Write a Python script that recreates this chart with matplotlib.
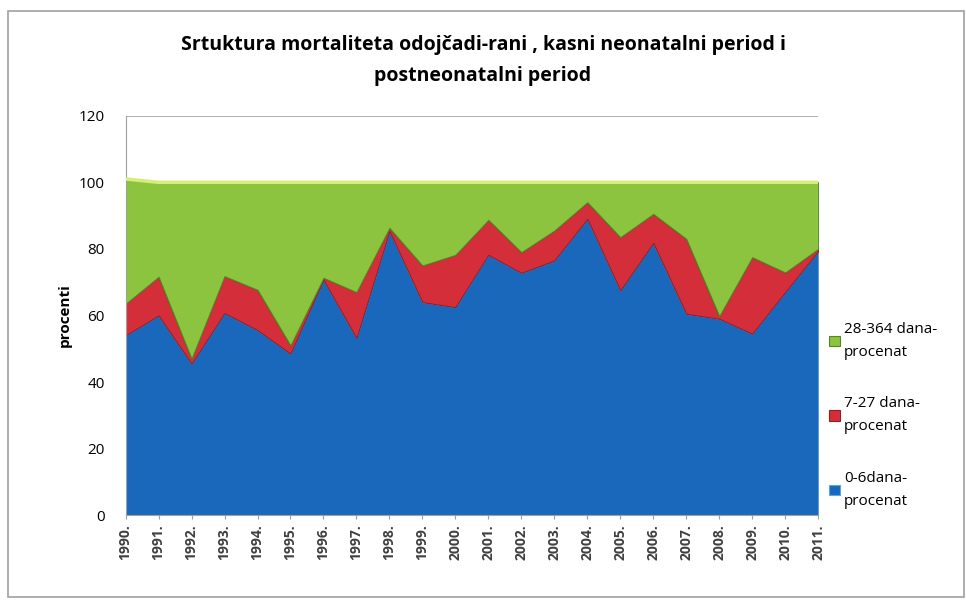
import numpy as np
import matplotlib.pyplot as plt
from matplotlib.patches import Rectangle

years = ["1990.", "1991.", "1992.", "1993.", "1994.", "1995.", "1996.", "1997.",
         "1998.", "1999.", "2000.", "2001.", "2002.", "2003.", "2004.", "2005.",
         "2006.", "2007.", "2008.", "2009.", "2010.", "2011."]

# procenti po grupama
dana_0_6 = [54, 60, 45.5, 60.7, 55.6, 48.5, 70.7, 53.2, 85.3, 64, 62.5,
            78.2, 72.8, 76.5, 89, 67.5, 81.8, 60.5, 59, 54.5, 67, 79.3]
dana_7_27 = [9.5, 11.6, 1.5, 11.1, 12.1, 2.5, 0.6, 13.8, 1.0, 11, 15.7,
             10.5, 6.2, 9, 5, 16, 8.7, 22.5, 0.8, 23, 5.9, 0.7]
dana_28_364 = [37.5, 28.4, 53, 28.2, 32.3, 49, 28.7, 33, 13.7, 25, 21.8,
               11.3, 21, 14.5, 6, 16.5, 9.5, 17, 40.2, 22.5, 27.1, 20]

labels = ["0-6dana-\nprocenat", "7-27 dana-\nprocenat", "28-364 dana-\nprocenat"]
colors = ["#1a68bb", "#d42e3b", "#8cc43f"]
edges = ["#5aa6e6", "#8e1f27", "#4f8a22"]

plt.rcParams['font.family'] = ['Open Sans', 'DejaVu Sans']

fig = plt.figure(figsize=(9.66, 6.09), dpi=100)
fig.patches.append(Rectangle((0.008, 0.02), 0.99, 0.962, transform=fig.transFigure,
                             fill=False, edgecolor="#a0a0a0", lw=1.2))
ax = fig.add_axes([0.130, 0.154, 0.717, 0.656])

x = np.arange(len(years))
polys = ax.stackplot(x, dana_0_6, dana_7_27, dana_28_364, colors=colors,
                     labels=labels, zorder=2)
for p, ec in zip(polys, edges):
    p.set_edgecolor(ec)
    p.set_linewidth(0.8)

# svjetlija gornja ivica zelene povrsine
top = np.array(dana_0_6) + np.array(dana_7_27) + np.array(dana_28_364)
ax.plot(x, top, color="#d8ec7a", lw=2.5, zorder=3)

ax.set_xlim(0, len(years) - 1)
ax.set_ylim(0, 120)
ax.set_yticks(range(0, 121, 20))
ax.yaxis.grid(True, color="#a0a0a0", lw=1.2, zorder=0)
ax.set_axisbelow(True)
ax.set_xticks(x)
ax.set_xticklabels(years, rotation=90, fontsize=10, fontweight="bold", color="#404040")
ax.tick_params(axis="y", labelsize=11, length=0, pad=15)
ax.tick_params(axis="x", length=3, color="#a0a0a0")
for s in ["top", "right"]:
    ax.spines[s].set_visible(False)
for s in ["left", "bottom"]:
    ax.spines[s].set_color("#a0a0a0")

ax.set_ylabel("procenti", fontsize=11, fontweight="bold", labelpad=5)

fig.text(0.50, 0.901, "Srtuktura mortaliteta odojčadi-rani , kasni neonatalni period i\npostneonatalni period",
         ha="center", va="center", fontsize=14, fontweight="bold", linespacing=1.7)

handles, lbls = ax.get_legend_handles_labels()
leg = ax.legend(handles[::-1], lbls[::-1], loc="center left", bbox_to_anchor=(1.0, 0.25),
                frameon=False, fontsize=11, handlelength=0.7, handleheight=0.7,
                labelspacing=2.4, handletextpad=0.3, borderaxespad=0.3)
for t in leg.get_texts():
    t.set_linespacing(1.7)

fig.savefig("out.png", dpi=100)
